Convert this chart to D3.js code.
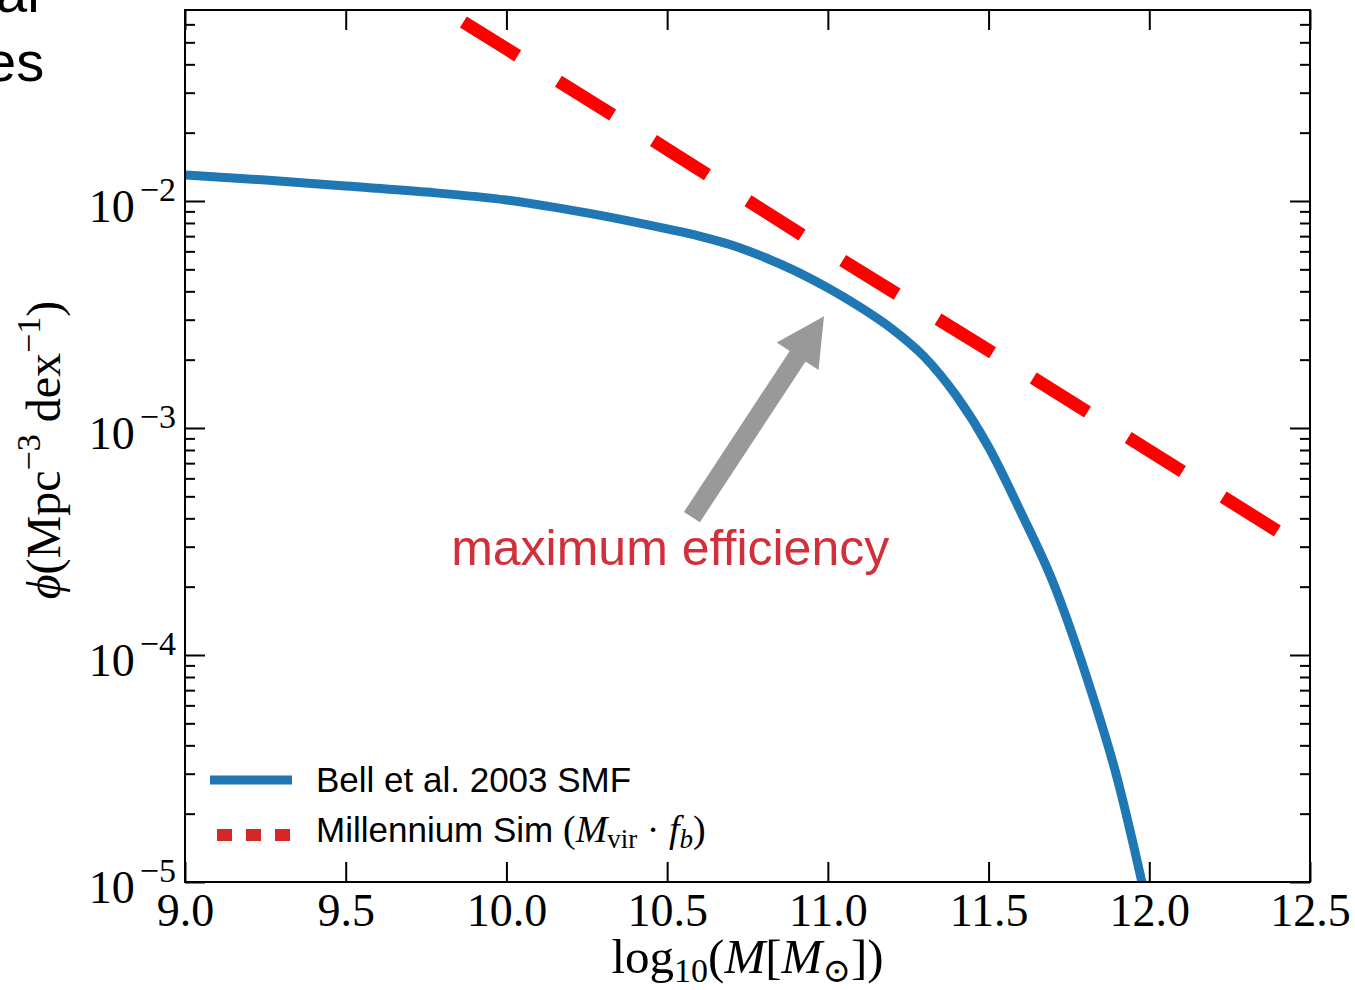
<!DOCTYPE html>
<html>
<head>
<meta charset="utf-8">
<script src="https://cdn.jsdelivr.net/npm/d3@7"></script>
<style>
  body { margin: 0; background: #fff; }
  svg { display: block; }
  .serif { font-family: "Liberation Serif", "DejaVu Serif", serif; }
  .sans { font-family: "Liberation Sans", Arial, sans-serif; }
</style>
</head>
<body>
<div id="chart"></div>
<script>
// Bell et al. 2003 stellar mass function
const bellMass = [9.0, 9.25, 9.5, 9.75, 10.0, 10.25, 10.5, 10.6, 10.7, 10.8, 10.9,
                  11.0, 11.1, 11.2, 11.3, 11.4, 11.5, 11.6, 11.7, 11.8, 11.9, 12.0];
const bellPhi = [1.302e-2, 1.237e-2, 1.164e-2, 1.095e-2, 1.010e-2, 8.86e-3, 7.53e-3, 7.01e-3,
                 6.40e-3, 5.67e-3, 4.91e-3, 4.14e-3, 3.41e-3, 2.73e-3, 2.06e-3, 1.384e-3,
                 8.25e-4, 4.27e-4, 2.10e-4, 8.41e-5, 2.87e-5, 7.15e-6];

// Millennium halo mass function times baryon fraction
const simMass = [9.8, 10.0, 10.5, 11.0, 11.5, 12.0, 12.5];
const simPhi = [7.02e-2, 4.68e-2, 1.69e-2, 6.0e-3, 2.20e-3, 7.94e-4, 2.86e-4];

const xTicks = [9.0, 9.5, 10.0, 10.5, 11.0, 11.5, 12.0, 12.5];
const yDecades = [1e-5, 1e-4, 1e-3, 1e-2];
const yExponents = ["\u22125", "\u22124", "\u22123", "\u22122"];

// annotation arrow (tail -> tip) and label anchor, in data units
const arrowTail = [10.577, 4.05e-4];
const arrowTip = [10.988, 3.11e-3];
const noteAnchor = [9.828, 2.49e-4];

const W = 1355, H = 990;
const plot = {left: 185, right: 1310, top: 10, bottom: 882};

const svg = d3.select("#chart").append("svg")
    .attr("width", W)
    .attr("height", H);

const x = d3.scaleLinear().domain([9.0, 12.5]).range([plot.left, plot.right]);
const y = d3.scaleLog().domain([1e-5, 0.0694]).range([plot.bottom, plot.top]);

// leftover slide text at top-left corner
svg.append("text").attr("class", "sans")
    .attr("x", -4).attr("y", 12)
    .attr("font-size", 56).attr("fill", "#000")
    .text("al");
svg.append("text").attr("class", "sans")
    .attr("x", -15).attr("y", 81)
    .attr("font-size", 56).attr("fill", "#000")
    .text("es");

svg.append("clipPath").attr("id", "clip")
    .append("rect")
    .attr("x", plot.left).attr("y", plot.top)
    .attr("width", plot.right - plot.left)
    .attr("height", plot.bottom - plot.top);

// minor log ticks
const minors = [];
yDecades.forEach(d => {
    for (let k = 2; k <= 9; k++) {
        const v = d * k;
        if (v < 0.0694) minors.push(v);
    }
});

// x axes
const xb = svg.append("g")
    .attr("transform", `translate(0,${plot.bottom})`)
    .call(d3.axisBottom(x).tickValues(xTicks).tickFormat(d3.format(".1f"))
        .tickSizeInner(-20).tickSizeOuter(0).tickPadding(11));
xb.selectAll("text").attr("class", "serif").attr("font-size", 46).attr("fill", "#000");

svg.append("g")
    .attr("transform", `translate(0,${plot.top})`)
    .call(d3.axisTop(x).tickValues(xTicks).tickFormat("")
        .tickSizeInner(-20).tickSizeOuter(0));

// y axes
svg.append("g")
    .attr("transform", `translate(${plot.left},0)`)
    .call(d3.axisLeft(y).tickValues(yDecades).tickFormat("")
        .tickSizeInner(-20).tickSizeOuter(0));

svg.append("g")
    .attr("transform", `translate(${plot.left},0)`)
    .call(d3.axisLeft(y).tickValues(minors).tickFormat("")
        .tickSizeInner(-10).tickSizeOuter(0));

svg.append("g")
    .attr("transform", `translate(${plot.right},0)`)
    .call(d3.axisRight(y).tickValues(yDecades).tickFormat("")
        .tickSizeInner(-20).tickSizeOuter(0));

svg.append("g")
    .attr("transform", `translate(${plot.right},0)`)
    .call(d3.axisRight(y).tickValues(minors).tickFormat("")
        .tickSizeInner(-10).tickSizeOuter(0));

svg.selectAll(".domain").remove();
svg.selectAll(".tick line").attr("stroke", "#000").attr("stroke-width", 2);

// y tick labels 10^n
yDecades.forEach((d, i) => {
    const t = svg.append("text").attr("class", "serif")
        .attr("x", 176).attr("y", y(d) + 21)
        .attr("text-anchor", "end")
        .attr("fill", "#000")
        .attr("font-size", 46);
    t.append("tspan").text("10");
    t.append("tspan").attr("dx", 5).attr("dy", -21).attr("font-size", 34).text(yExponents[i]);
});

// curves
const lineG = svg.append("g").attr("clip-path", "url(#clip)");

const line = d3.line()
    .x(d => x(d[0]))
    .y(d => y(d[1]))
    .curve(d3.curveMonotoneX);

lineG.append("path")
    .datum(bellMass.map((m, i) => [m, bellPhi[i]]))
    .attr("d", line)
    .attr("fill", "none")
    .attr("stroke", "#1f77b4")
    .attr("stroke-width", 9)
    .attr("stroke-linejoin", "round");

lineG.append("path")
    .datum(simMass.map((m, i) => [m, simPhi[i]]))
    .attr("d", line)
    .attr("fill", "none")
    .attr("stroke", "#ff0000")
    .attr("stroke-width", 13)
    .attr("stroke-dasharray", "64 48")
    .attr("stroke-dashoffset", 87);

// frame
svg.append("rect")
    .attr("x", plot.left).attr("y", plot.top)
    .attr("width", plot.right - plot.left)
    .attr("height", plot.bottom - plot.top)
    .attr("fill", "none")
    .attr("stroke", "#000")
    .attr("stroke-width", 2);

// arrow annotation
const ax0 = x(arrowTail[0]), ay0 = y(arrowTail[1]);
const ax1 = x(arrowTip[0]), ay1 = y(arrowTip[1]);
const len = Math.hypot(ax1 - ax0, ay1 - ay0);
const shaftW = 19, headW = 50, headL = 48;
svg.append("polygon")
    .attr("transform", `translate(${ax0},${ay0}) rotate(${Math.atan2(ay1 - ay0, ax1 - ax0) * 180 / Math.PI})`)
    .attr("points", [
        [0, -shaftW / 2], [len - headL, -shaftW / 2], [len - headL, -headW / 2],
        [len, 0], [len - headL, headW / 2], [len - headL, shaftW / 2], [0, shaftW / 2]
    ].map(p => p.join(",")).join(" "))
    .attr("fill", "#999999");

svg.append("text").attr("class", "sans")
    .attr("x", x(noteAnchor[0])).attr("y", y(noteAnchor[1]))
    .attr("font-size", 50)
    .attr("fill", "#d0303a")
    .text("maximum efficiency");

// legend
const leg = svg.append("g");
leg.append("line")
    .attr("x1", 210).attr("x2", 292).attr("y1", 780).attr("y2", 780)
    .attr("stroke", "#1f77b4").attr("stroke-width", 9);
leg.append("text").attr("class", "sans")
    .attr("x", 316).attr("y", 792)
    .attr("font-size", 35).attr("fill", "#000")
    .text("Bell et al. 2003 SMF");

leg.append("line")
    .attr("x1", 217).attr("x2", 292).attr("y1", 835).attr("y2", 835)
    .attr("stroke", "#d62728").attr("stroke-width", 12)
    .attr("stroke-dasharray", "15 14");
const t2 = leg.append("text")
    .attr("x", 316).attr("y", 842)
    .attr("font-size", 35).attr("fill", "#000");
t2.append("tspan").attr("class", "sans").text("Millennium Sim ");
t2.append("tspan").attr("class", "serif").attr("font-size", 38).text("(");
t2.append("tspan").attr("class", "serif").attr("font-size", 38).attr("font-style", "italic").text("M");
t2.append("tspan").attr("class", "serif").attr("font-size", 27).attr("dy", 6).text("vir");
t2.append("tspan").attr("class", "serif").attr("font-size", 38).attr("dy", -6).text(" \u00b7 ");
t2.append("tspan").attr("class", "serif").attr("font-size", 38).attr("font-style", "italic").text("f");
t2.append("tspan").attr("class", "serif").attr("font-style", "italic").attr("font-size", 27).attr("dy", 6).text("b");
t2.append("tspan").attr("class", "serif").attr("font-size", 38).attr("dy", -6).text(")");

// x axis label
const xl = svg.append("text").attr("class", "serif")
    .attr("x", (plot.left + plot.right) / 2).attr("y", 973)
    .attr("text-anchor", "middle")
    .attr("font-size", 49).attr("fill", "#000");
xl.append("tspan").text("log");
xl.append("tspan").attr("font-size", 34).attr("dy", 9).text("10");
xl.append("tspan").attr("dy", -9).text("(");
xl.append("tspan").attr("font-style", "italic").text("M");
xl.append("tspan").text("[");
xl.append("tspan").attr("font-style", "italic").text("M");
xl.append("tspan").attr("font-size", 34).attr("dy", 9).text("\u2299");
xl.append("tspan").attr("dy", -9).text("])");

// y axis label
const ylab = svg.append("text").attr("class", "serif")
    .attr("transform", `translate(60,${(plot.top + plot.bottom) / 2 + 4}) rotate(-90)`)
    .attr("text-anchor", "middle")
    .attr("font-size", 48).attr("fill", "#000");
ylab.append("tspan").attr("font-style", "italic").text("\u03d5");
ylab.append("tspan").text("(Mpc");
ylab.append("tspan").attr("font-size", 34).attr("dy", -20).text("\u22123");
ylab.append("tspan").attr("dy", 20).text(" dex");
ylab.append("tspan").attr("font-size", 34).attr("dy", -20).text("\u22121");
ylab.append("tspan").attr("dy", 20).text(")");
</script>
</body>
</html>
